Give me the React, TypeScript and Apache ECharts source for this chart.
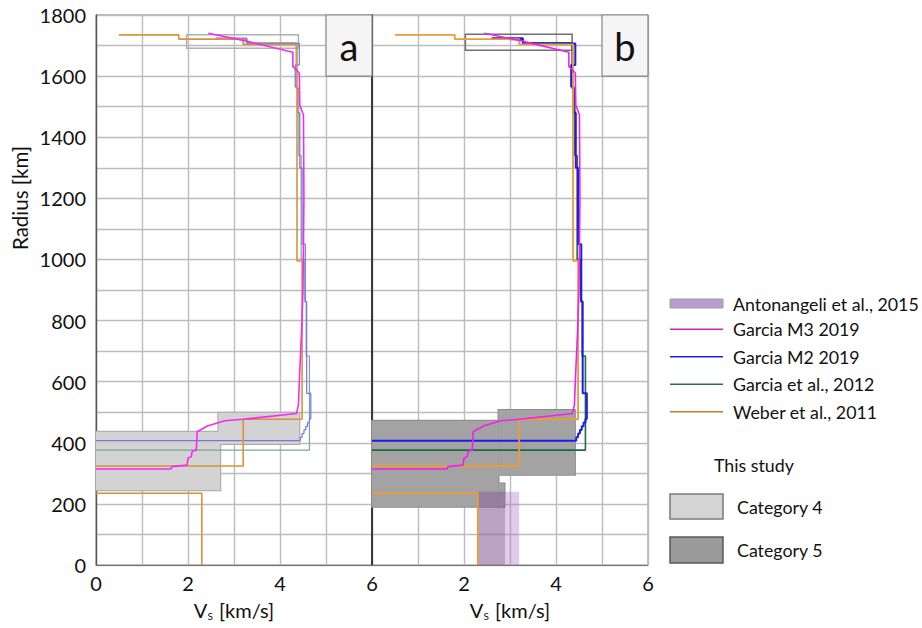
import React, { useEffect, useRef } from "react";
import * as echarts from "echarts";

const FONT = "Lato, 'Noto Sans', sans-serif";

// ---- Data (Vs [km/s], radius [km]) ----
const weberMantle = [
  [0.5, 1735], [1.8, 1735], [1.8, 1721], [3.2, 1721], [3.2, 1704], [4.37, 1704],
  [4.37, 995], [4.48, 995], [4.48, 477], [3.2, 477], [3.2, 324], [0, 324],
];
const weberCore = [[0, 235], [2.3, 235], [2.3, 0]];

const garciaM3 = [
  [2.44, 1740], [3.2, 1717], [4.28, 1678], [4.28, 1631], [4.36, 1620], [4.42, 1609],
  [4.43, 1505], [4.51, 1473], [4.52, 1200], [4.5, 900], [4.47, 770], [4.42, 600],
  [4.4, 524], [4.36, 496], [3.2, 477], [2.8, 472], [2.42, 455], [2.2, 436],
  [2.18, 376], [2.09, 372], [2.07, 354], [2.0, 350], [1.98, 327], [1.65, 322],
  [1.63, 314], [0, 314],
];

const garciaM2 = [
  [2.6, 1724], [3.28, 1724], [3.28, 1707], [4.42, 1707], [4.42, 1636], [4.33, 1636],
  [4.33, 1565], [4.38, 1565], [4.38, 1480], [4.43, 1480], [4.43, 1300], [4.48, 1300],
  [4.48, 1050], [4.55, 1050], [4.55, 862], [4.58, 862], [4.58, 562], [4.67, 562],
  [4.67, 478], [4.64, 478], [4.64, 466], [4.6, 466], [4.6, 454], [4.56, 454],
  [4.56, 442], [4.52, 442], [4.52, 430], [4.48, 430], [4.48, 418], [4.44, 418],
  [4.44, 407], [0, 407],
];

const garcia2012 = [
  [3.0, 1720], [3.28, 1720], [3.28, 1709], [4.35, 1709], [4.35, 1560], [4.41, 1560],
  [4.41, 1340], [4.46, 1340], [4.46, 1000], [4.54, 1000], [4.54, 862], [4.57, 862],
  [4.57, 684], [4.64, 684], [4.64, 376], [0, 376],
];

// boxes: [vsMin, rMin, vsMax, rMax]
const cat4Core = [[0, 245, 2.7, 436], [2.66, 396, 4.42, 498]];
const cat4Crust = [[1.97, 1691, 4.4, 1735]];
const cat5Core = [[0, 191, 2.75, 472], [2.75, 295, 4.41, 507], [2.75, 191, 2.88, 267]];
const cat5Crust = [[2.03, 1685, 4.35, 1737]];
const antonangeliOuter = [[2.31, 0, 3.2, 240]];
const antonangeliInner = [[2.31, 0, 2.89, 240]];

const panelLabels = [[5, 1600, 6, 1800]];

const legendLines = [
  { name: "Garcia M3 2019", color: "#c822c8" },
  { name: "Garcia M2 2019", color: "#2020e0" },
  { name: "Garcia et al., 2012", color: "#2e6e4e" },
  { name: "Weber et al., 2011", color: "#c47c2c" },
];

function areas(rects: number[][], style: any) {
  return rects.map(([x0, y0, x1, y1]) => [
    { xAxis: x0, yAxis: y0, itemStyle: style },
    { xAxis: x1, yAxis: y1 },
  ]);
}

function boxSeries(idx: number, rects: number[][], style: any, z = 1) {
  return {
    type: "line",
    data: [],
    xAxisIndex: idx,
    yAxisIndex: idx,
    z,
    silent: true,
    markArea: {
      silent: true,
      label: { show: false },
      data: areas(rects, style),
    },
  };
}

function lineSeries(idx: number, name: string, data: number[][], color: string, width: number) {
  return {
    type: "line",
    name,
    data,
    xAxisIndex: idx,
    yAxisIndex: idx,
    symbol: "none",
    silent: true,
    z: 3,
    lineStyle: { color, width },
  };
}

function letterSeries(idx: number, letter: string) {
  return {
    type: "line",
    data: [],
    xAxisIndex: idx,
    yAxisIndex: idx,
    z: 4,
    silent: true,
    markArea: {
      silent: true,
      label: {
        show: true,
        position: "inside",
        formatter: letter,
        fontSize: 38,
        color: "#111",
        fontFamily: FONT,
      },
      data: panelLabels.map(([x0, y0, x1, y1]) => [
        { xAxis: x0, yAxis: y0, itemStyle: { color: "#f5f5f5", borderColor: "#888", borderWidth: 1.2 } },
        { xAxis: x1, yAxis: y1 },
      ]),
    },
  };
}

const panelColors = [
  { m3: "#f52cf0", m2: "#7676e6", g12: "#7aa896", weber: "#d8923a", w: [1.6, 1.2, 1.2, 1.6] },
  { m3: "#f020f0", m2: "#1c1ce8", g12: "#1e6a42", weber: "#ee9a36", w: [1.6, 2, 1.6, 1.8] },
];

function xAxisFor(idx: number) {
  return {
    type: "value",
    gridIndex: idx,
    min: 0,
    max: 6,
    interval: 1,
    axisLine: { show: true, onZero: false, lineStyle: { color: "#777", width: 1.2 } },
    axisTick: { show: false },
    splitLine: { show: true, lineStyle: { color: "#bcbcbc", width: 1.4 } },
    axisLabel: {
      fontSize: 20,
      color: "#111",
      fontFamily: FONT,
      margin: 8,
      formatter: (v: number) => (v % 2 === 0 && !(idx === 1 && v === 0) ? String(v) : ""),
    },
    name: "{v|V}{s|S}{u| [km/s]}",
    nameLocation: "middle",
    nameGap: 33,
    nameTextStyle: {
      rich: {
        v: { fontSize: 20, fontFamily: FONT, color: "#111" },
        s: { fontSize: 10, fontFamily: FONT, color: "#111", padding: [13, 1, 0, 0] },
        u: { fontSize: 20, fontFamily: FONT, color: "#111" },
      },
    },
  };
}

function yAxisFor(idx: number) {
  return {
    type: "value",
    gridIndex: idx,
    min: 0,
    max: 1800,
    interval: 100,
    axisLine: {
      show: true,
      onZero: false,
      lineStyle: idx === 0 ? { color: "#555", width: 1.3 } : { color: "#1a1a1a", width: 1.6 },
    },
    axisTick: { show: false },
    splitLine: { show: true, lineStyle: { color: "#bcbcbc", width: 1.4 } },
    axisLabel: {
      show: idx === 0,
      fontSize: 20,
      color: "#111",
      fontFamily: FONT,
      margin: 10,
      formatter: (v: number) => (v % 200 === 0 ? String(v) : ""),
    },
  };
}

function buildOption() {
  const series: any[] = [];
  // Panel a: Category 4
  series.push(boxSeries(0, cat4Core, { color: "#d3d3d3", borderColor: "#a6a6a6", borderWidth: 2 }, 1));
  series.push(boxSeries(0, cat4Core, { color: "#d3d3d3", borderWidth: 0 }, 1));
  series.push(boxSeries(0, cat4Crust, { color: "rgba(0,0,0,0)", borderColor: "#b0b0b0", borderWidth: 1.5 }, 1));
  // Panel b: Category 5 + Antonangeli
  series.push(boxSeries(1, cat5Core, { color: "#a3a3a3", borderColor: "#8a8a8a", borderWidth: 2 }, 1));
  series.push(boxSeries(1, cat5Core, { color: "#a3a3a3", borderWidth: 0 }, 1));
  series.push(boxSeries(1, cat5Crust, { color: "rgba(0,0,0,0)", borderColor: "#707070", borderWidth: 1.5 }, 1));
  series.push(boxSeries(1, antonangeliOuter, { color: "rgba(170,120,200,0.38)", borderWidth: 0 }, 2));
  series.push(boxSeries(1, antonangeliInner, { color: "rgba(120,90,130,0.36)", borderWidth: 0 }, 2));

  [0, 1].forEach((i) => {
    const c = panelColors[i];
    series.push(lineSeries(i, "Garcia et al., 2012", garcia2012, c.g12, c.w[2]));
    series.push(lineSeries(i, "Garcia M2 2019", garciaM2, c.m2, c.w[1]));
    series.push(lineSeries(i, "Weber et al., 2011", weberMantle, c.weber, c.w[3]));
    series.push(lineSeries(i, "Weber et al., 2011", weberCore, c.weber, c.w[3]));
    series.push(lineSeries(i, "Garcia M3 2019", garciaM3, c.m3, c.w[0]));
    series.push(letterSeries(i, i === 0 ? "a" : "b"));
  });

  const LF = 17.8;
  const legendTop = 329.3;
  const legendStep = 27.5;
  const graphic: any[] = [
    {
      type: "text",
      x: 20,
      y: 198,
      rotation: Math.PI / 2,
      style: { text: "Radius [km]", fontSize: 20.5, fontFamily: FONT, fill: "#111", align: "center", verticalAlign: "middle" },
    },
    {
      type: "rect",
      shape: { x: 670, y: 299, width: 53, height: 9 },
      style: { fill: "#b89cd0", stroke: "#a0a0a0", lineWidth: 1 },
    },
    {
      type: "text",
      x: 733,
      y: 303.5,
      style: { text: "Antonangeli et al., 2015", fontSize: LF, fontFamily: FONT, fill: "#111", verticalAlign: "middle" },
    },
  ];
  legendLines.forEach((l, i) => {
    const y = legendTop + i * legendStep;
    graphic.push({
      type: "line",
      shape: { x1: 670, y1: y, x2: 723, y2: y },
      style: { stroke: l.color, lineWidth: 1.4 },
    });
    graphic.push({
      type: "text",
      x: 733,
      y,
      style: { text: l.name, fontSize: LF, fontFamily: FONT, fill: "#111", verticalAlign: "middle" },
    });
  });
  graphic.push(
    {
      type: "text",
      x: 714,
      y: 465,
      style: { text: "This study", fontSize: LF, fontFamily: FONT, fill: "#111", verticalAlign: "middle" },
    },
    {
      type: "rect",
      shape: { x: 670, y: 494, width: 53, height: 25 },
      style: { fill: "#d4d4d4", stroke: "#7a7a7a", lineWidth: 1.5 },
    },
    {
      type: "text",
      x: 737,
      y: 507,
      style: { text: "Category 4", fontSize: LF, fontFamily: FONT, fill: "#111", verticalAlign: "middle" },
    },
    {
      type: "rect",
      shape: { x: 670, y: 537, width: 53, height: 26 },
      style: { fill: "#9a9a9a", stroke: "#5a5a5a", lineWidth: 1.5 },
    },
    {
      type: "text",
      x: 737,
      y: 549.5,
      style: { text: "Category 5", fontSize: LF, fontFamily: FONT, fill: "#111", verticalAlign: "middle" },
    }
  );

  const gridBase = {
    top: 15,
    width: 276,
    height: 550,
    show: true,
    borderWidth: 1,
    backgroundColor: "rgba(0,0,0,0)",
    containLabel: false,
    outerBoundsMode: "none",
  };

  return {
    animation: false,
    backgroundColor: "#ffffff",
    textStyle: { fontFamily: FONT },
    grid: [
      { ...gridBase, left: 96, borderColor: "#777" },
      { ...gridBase, left: 372, borderColor: "#888" },
    ],
    xAxis: [xAxisFor(0), xAxisFor(1)],
    yAxis: [yAxisFor(0), yAxisFor(1)],
    series,
    graphic,
  };
}

export default function App() {
  const ref = useRef<HTMLDivElement>(null);
  useEffect(() => {
    if (!ref.current) return;
    const chart = echarts.init(ref.current, null, { renderer: "svg" });
    chart.setOption(buildOption() as any);
    return () => chart.dispose();
  }, []);
  return (
    <div
      ref={ref}
      style={{ position: "absolute", left: 0, top: 0, width: 922, height: 628, background: "#fff" }}
    />
  );
}
